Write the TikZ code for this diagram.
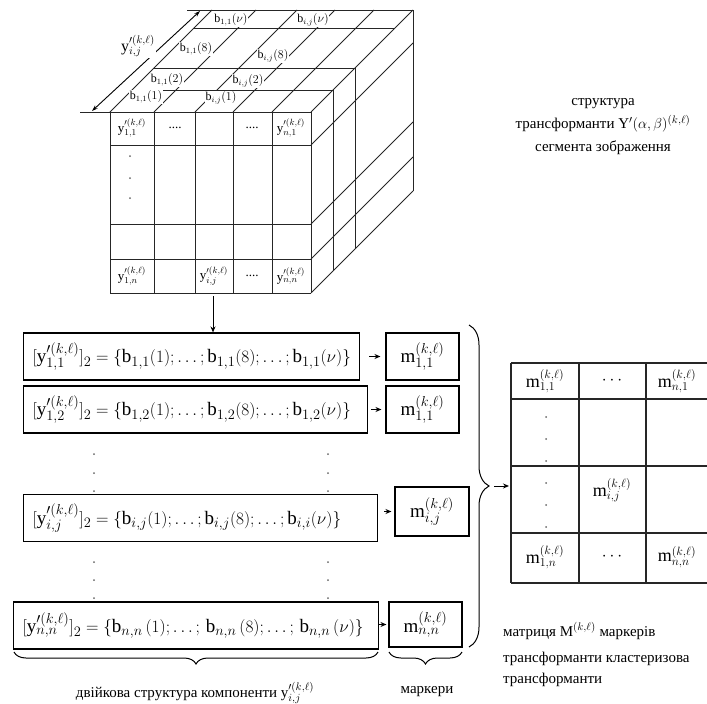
\documentclass[tikz,border=0pt]{standalone}
\usepackage{fontspec}
\setmainfont{Liberation Serif}
\setmathrm{Liberation Serif}
\usetikzlibrary{arrows.meta,decorations.pathreplacing,positioning,calc}
\newcommand{\ykl}[1]{\mathrm{y}^{\prime(k,\ell)}_{#1}}
\newcommand{\mkl}[1]{\mathrm{m}^{(k,\ell)}_{#1}}
\newcommand{\bitof}[2]{\mathrm{b}_{#1}(#2)}
\tikzset{
  % lines of the cube
  cubeline/.style={line width=0.9pt, black!85},
  % lines of the marker matrix
  gridline/.style={line width=1.1pt, black!85},
  % bit label on the top face
  bitlabel/.style={fill=white, inner sep=0.6pt, font=\fontsize{12}{13}\selectfont},
  % label in a front cell
  celllabel/.style={inner sep=0pt, font=\fontsize{13}{14}\selectfont},
  % box with a binary structure
  bitbox/.style={rectangle, draw, line width=1.1pt, anchor=west, text width=#1, align=left,
                 minimum height=47pt, inner xsep=9pt, font=\fontsize{19}{22}\selectfont},
  % marker box
  markbox/.style={rectangle, draw, line width=1.1pt, minimum width=73pt, minimum height=47pt,
                  inner sep=2pt, font=\fontsize{19}{22}\selectfont},
  % small arrow
  steparrow/.style={-{Stealth[length=6pt,width=5pt]}, line width=1pt},
  % curly brace
  curly/.style={decorate, decoration={brace, amplitude=#1}, line width=1pt},
  curlymirror/.style={decorate, decoration={brace, mirror, amplitude=#1}, line width=1pt},
  % caption text
  captext/.style={inner sep=1pt, font=\fontsize{15}{18}\selectfont},
  % label in the marker matrix
  mlabel/.style={inner sep=0pt, font=\fontsize{18}{20}\selectfont},
}
\begin{document}
\begin{tikzpicture}[x=1pt,y=-1pt]
  \useasboundingbox (0,0) rectangle (707,704);

  % cube: front face
  \foreach \x in {110,154,195,233,272,311}
    \draw[cubeline] (\x,112) -- (\x,293);
  \foreach \y in {112,145,224,259,293}
    \draw[cubeline] (110,\y) -- (311,\y);
  % cube: top face
  \foreach \x in {110,154,195,233,272,311}
    \draw[cubeline] (\x,112) -- ++(102,-102);
  \foreach \t in {22,44,84,102}
    \draw[cubeline] (110+\t,112-\t) -- (311+\t,112-\t);
  % cube: right face
  \foreach \y in {145,224,259,293}
    \draw[cubeline] (311,\y) -- ++(102,-102);
  \foreach \t in {22,44,102}
    \draw[cubeline] (311+\t,112-\t) -- (311+\t,293-\t);

  % depth dimension
  \draw[cubeline] (80,112) -- (110,112);
  \draw[cubeline] (187,10) -- (212,10);
  \coordinate (dimlo) at (92,111);
  \coordinate (dimhi) at (200,11);
  \draw[{Stealth[length=6pt,width=4pt]}-{Stealth[length=6pt,width=4pt]}, line width=0.9pt] (dimlo) -- (dimhi);
  \node[inner sep=1pt, fill=white, font=\fontsize{16}{18}\selectfont] (depthlab) at (138,46) {$\ykl{i,j}$};

  % bits on the top face
  \node[bitlabel] (b11a) at (146,97) {$\bitof{1,1}{1}$};
  \node[bitlabel] (bija) at (221,98) {$\bitof{i,j}{1}$};
  \node[bitlabel] (b11b) at (167,80) {$\bitof{1,1}{2}$};
  \node[bitlabel] (bijb) at (248,81) {$\bitof{i,j}{2}$};
  \node[bitlabel] (b11c) at (196,49) {$\bitof{1,1}{8}$};
  \node[bitlabel] (bijc) at (273,56) {$\bitof{i,j}{8}$};
  \node[bitlabel] (b11d) at (231,20) {$\bitof{1,1}{\nu}$};
  \node[bitlabel] (bijd) at (313,20) {$\bitof{i,j}{\nu}$};

  % front cells
  \node[celllabel] (y11) at (132,128) {$\ykl{1,1}$};
  \node[celllabel] (ydots1) at (175,128) {....};
  \node[celllabel] (ydots2) at (252,128) {....};
  \node[celllabel] (yn1) at (291,128) {$\ykl{n,1}$};
  \node[celllabel] (y1n) at (132,276) {$\ykl{1,n}$};
  \node[celllabel] (yij) at (214,276) {$\ykl{i,j}$};
  \node[celllabel] (ydots3) at (252,276) {....};
  \node[celllabel] (ynn) at (291,276) {$\ykl{n,n}$};
  \foreach \y in {156,178,198}
    \fill[black!60] (130,\y) circle (1pt);

  % title of the cube
  \node[captext, align=center] (cubetitle) at (603,127)
    {структура\\[5pt] трансформанти $\mathrm{Y}'(\alpha,\beta)^{(k,\ell)}$\\[5pt] сегмента зображення};

  % binary structures
  \coordinate (cubebot) at (213,296);
  \node[bitbox=318pt] (row1) at (23,356.5)
    {\mbox{$[\ykl{1,1}]_2=\{\bitof{1,1}{1};\ldots;\bitof{1,1}{8};\ldots;\bitof{1,1}{\nu}\}$}};
  \node[bitbox=326pt] (row2) at (23,409.5)
    {\mbox{$[\ykl{1,2}]_2=\{\bitof{1,2}{1};\ldots;\bitof{1,2}{8};\ldots;\bitof{1,2}{\nu}\}$}};
  \node[bitbox=336pt] (row3) at (23,518)
    {\mbox{$[\ykl{i,j}]_2=\{\bitof{i,j}{1};\ldots;\bitof{i,j}{8};\ldots;\bitof{i,i}{\nu}\}$}};
  \node[bitbox=347pt] (row4) at (13,625.5)
    {\mbox{$[\ykl{n,n}]_2=\{\mathrm{b}_{n,n}\,(1);\ldots;\,\mathrm{b}_{n,n}\,(8);\ldots;\,\mathrm{b}_{n,n}\,(\nu)\}$}};
  \draw[steparrow] (cubebot) -- (cubebot |- row1.north);

  % markers
  \node[markbox] (mark1) at (422.5,356.5) {$\mkl{1,1}$};
  \node[markbox] (mark2) at (422.5,409.5) {$\mkl{1,1}$};
  \node[markbox, minimum width=74pt, minimum height=49pt] (mark3) at (432,511.5) {$\mkl{i,j}$};
  \node[markbox, minimum height=45pt] (mark4) at (425.5,624.5) {$\mkl{n,n}$};
  \draw[steparrow, shorten <=9pt, shorten >=5pt] (row1.east) -- (mark1.west);
  \draw[steparrow, shorten <=3pt, shorten >=4pt] (row2.east |- mark2.west) -- (mark2.west);
  \draw[steparrow, shorten <=6pt, shorten >=3pt] (row3.east |- mark3.west) -- (mark3.west);
  \draw[steparrow, shorten >=2pt] (row4.east |- mark4.west) -- (mark4.west);

  % dots between the rows
  \foreach \y in {454,473,491,562,580,598} {
    \fill[black!60] (94,\y) circle (1pt);
    \fill[black!60] (328,\y) circle (1pt);
  }

  % braces under the rows and the markers
  \draw[curlymirror=12pt] (14,652) -- (378,652);
  \node[captext] (bitcap) at (195,693) {двійкова структура компоненти $\ykl{i,j}$};
  \draw[curlymirror=12pt] (389,652) -- (462,652);
  \node[captext] (markcap) at (427,692) {маркери};

  % brace over all markers
  \draw[curly=20pt] (469,325) -- (469,647);
  \coordinate (bracetip) at (494,486);

  % matrix of markers
  \foreach \y in {363,399,466,533,583}
    \draw[gridline] (511,\y) -- (707,\y);
  \foreach \x in {511,579,646}
    \draw[gridline] (\x,363) -- (\x,583);
  \draw[steparrow] (bracetip) -- (509,486);
  \node[mlabel] (m11) at (545,381) {$\mkl{1,1}$};
  \node[mlabel] (mdots1) at (612,381) {$\cdots$};
  \node[mlabel] (mn1) at (677,381) {$\mkl{n,1}$};
  \node[mlabel] (mij) at (612,490) {$\mkl{i,j}$};
  \node[mlabel] (m1n) at (545,557) {$\mkl{1,n}$};
  \node[mlabel] (mdots2) at (612,557) {$\cdots$};
  \node[mlabel] (mnn) at (677,557) {$\mkl{n,n}$};
  \foreach \y in {417,439,461,483,505,527}
    \fill[black!60] (546,\y) circle (1pt);

  % caption of the matrix
  \node[captext, anchor=west] (mcap1) at (502,631) {матриця $\mathrm{M}^{(k,\ell)}$ маркерів};
  \node[captext, anchor=west] (mcap2) at (502,659) {трансформанти кластеризова};
  \node[captext, anchor=west] (mcap3) at (502,680) {трансформанти};
\end{tikzpicture}
\end{document}
